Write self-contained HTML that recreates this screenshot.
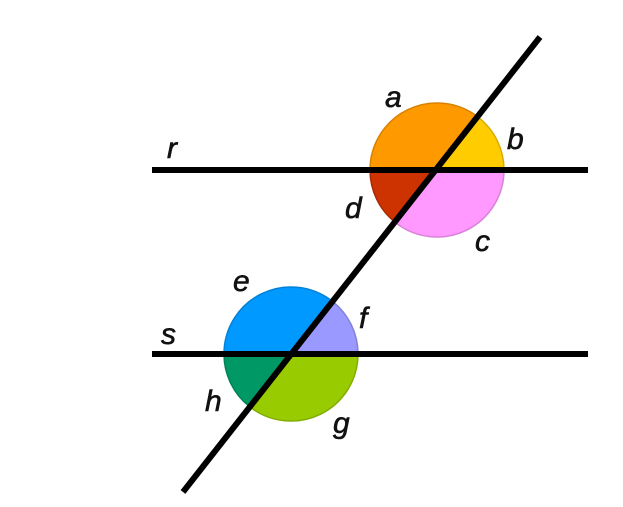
<!DOCTYPE html>
<html><head><style>body{margin:0;background:#fff}svg{display:block}text{font-family:"Liberation Sans",sans-serif;font-style:italic;font-size:30px;fill:#111;stroke:#111;stroke-width:0.6}</style></head><body>
<svg width="623" height="507" viewBox="0 0 623 507">
<g stroke-width="1.5">
<path d="M437,170 L478.4,117.3 A67,67 0 0 0 370,170 Z" fill="#FF9900" stroke="#d98200"/>
<path d="M437,170 L504,170 A67,67 0 0 0 478.4,117.3 Z" fill="#FFCC00" stroke="#d9ad00"/>
<path d="M437,170 L504,170 A67,67 0 0 1 395.6,222.7 Z" fill="#FF99FF" stroke="#d982d9"/>
<path d="M437,170 L395.6,222.7 A67,67 0 0 1 370,170 Z" fill="#CC3300" stroke="#a82a00"/>
<path d="M291,354 L332.4,301.3 A67,67 0 0 0 224,354 Z" fill="#0099FF" stroke="#0082d9"/>
<path d="M291,354 L358,354 A67,67 0 0 0 332.4,301.3 Z" fill="#9999FF" stroke="#8282d9"/>
<path d="M291,354 L358,354 A67,67 0 0 1 249.6,406.7 Z" fill="#99CC00" stroke="#82ad00"/>
<path d="M291,354 L249.6,406.7 A67,67 0 0 1 224,354 Z" fill="#009966" stroke="#008256"/>
</g>
<g stroke="#000" stroke-width="6">
<line x1="152" y1="170" x2="588" y2="170"/>
<line x1="152" y1="354" x2="588" y2="354"/>
<line x1="540" y1="37" x2="183" y2="492"/>
</g>
<text x="385" y="107">a</text>
<text x="507" y="149">b</text>
<text x="475" y="251">c</text>
<text x="345" y="218">d</text>
<text x="167" y="158">r</text>
<text x="233" y="291">e</text>
<text x="359" y="328">f</text>
<text x="161" y="344">s</text>
<text x="205" y="411">h</text>
<text x="333" y="433">g</text>
</svg>
</body></html>
